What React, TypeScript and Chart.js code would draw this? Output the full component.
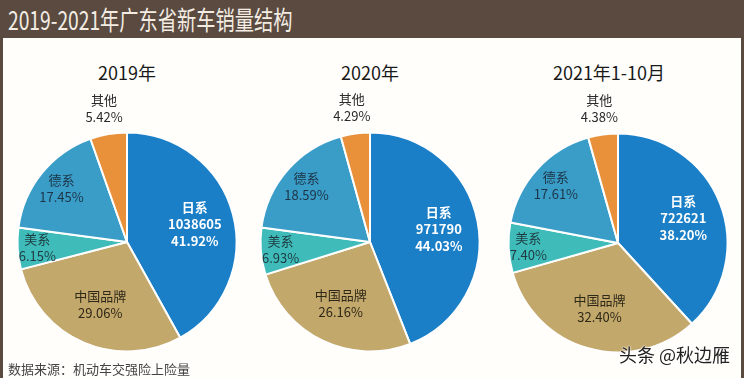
import React, { useEffect, useRef } from "react";
import { Chart, registerables } from "chart.js";

Chart.register(...registerables);

const categories = ["日系", "中国品牌", "美系", "德系", "其他"];
const periods = ["2019年", "2020年", "2021年1-10月"];
const share2019 = [41.92, 29.06, 6.15, 17.45, 5.42];
const share2020 = [44.03, 26.16, 6.93, 18.59, 4.29];
const share2021 = [38.2, 32.4, 7.4, 17.61, 4.38];
const japanVolume = [1038605, 971790, 722621];
const shares = [share2019, share2020, share2021];

const colors = ["#1a7fc6", "#c3a86c", "#3fbcb9", "#3a9dc8", "#e8913a"];
const labelColors = ["#ffffff", "#2e2818", "#1e3a40", "#1c3446", "#2a2a2a"];
const labelRadius = [0.64, 0.62, 0.82, 0.77, 1.24];

const FONT = '"Noto Sans CJK SC", "Noto Sans", sans-serif';

// layout (pie centres and radius in page pixels)
const pieLayout = [
  { cx: 127, cy: 242, titleX: 127 },
  { cx: 370, cy: 242, titleX: 370 },
  { cx: 618, cy: 243, titleX: 609 },
];
const AREA = 221;
const CANVAS_W = 250;
const CANVAS_TOP = 86;
const CANVAS_H = 276;

const labelPlugin = {
  id: "sliceLabels",
  afterDatasetsDraw(chart: any) {
    const ctx = chart.ctx;
    const meta = chart.getDatasetMeta(0);
    const idx = chart.options.plugins.sliceLabels.index;
    const data = chart.data.datasets[0].data as number[];
    meta.data.forEach((arc: any, i: number) => {
      const mid = (arc.startAngle + arc.endAngle) / 2;
      const r = arc.outerRadius * labelRadius[i];
      const x = arc.x + Math.cos(mid) * r;
      const y = arc.y + Math.sin(mid) * r;
      const lines =
        i === 0
          ? [categories[i], String(japanVolume[idx]), data[i].toFixed(2) + "%"]
          : [categories[i], data[i].toFixed(2) + "%"];
      ctx.save();
      ctx.fillStyle = labelColors[i];
      ctx.font = (i === 0 ? "bold " : "") + "13px " + FONT;
      ctx.textAlign = "center";
      ctx.textBaseline = "middle";
      const lh = 17;
      const y0 = y - ((lines.length - 1) * lh) / 2;
      lines.forEach((t, k) => ctx.fillText(t, x, y0 + k * lh));
      ctx.restore();
    });
  },
};

function Pie({ index }: { index: number }) {
  const ref = useRef<HTMLCanvasElement>(null);
  useEffect(() => {
    const lay = pieLayout[index];
    const areaTop = lay.cy - AREA / 2;
    const padTop = areaTop - CANVAS_TOP;
    const padBottom = CANVAS_H - padTop - AREA;
    const padSide = (CANVAS_W - AREA) / 2;
    const chart = new Chart(ref.current!, {
      type: "pie",
      data: {
        labels: categories,
        datasets: [
          {
            data: shares[index],
            backgroundColor: colors,
            borderColor: "#ffffff",
            borderWidth: 2,
          },
        ],
      },
      options: {
        animation: false,
        responsive: false,
        maintainAspectRatio: false,
        layout: {
          padding: { top: padTop, bottom: padBottom, left: padSide, right: padSide },
        },
        plugins: {
          legend: { display: false },
          tooltip: { enabled: false },
          sliceLabels: { index },
        } as any,
      },
      plugins: [labelPlugin],
    });
    return () => chart.destroy();
  }, [index]);
  const lay = pieLayout[index];
  return (
    <canvas
      ref={ref}
      width={CANVAS_W}
      height={CANVAS_H}
      style={{
        position: "absolute",
        left: lay.cx - CANVAS_W / 2,
        top: CANVAS_TOP,
        width: CANVAS_W,
        height: CANVAS_H,
      }}
    />
  );
}

export default function App() {
  return (
    <div
      style={{
        position: "absolute",
        left: 0,
        top: 0,
        width: 744,
        height: 378,
        background: "#fffefb",
        overflow: "hidden",
        fontFamily: FONT,
      }}
    >
      <div
        style={{
          position: "absolute",
          left: 0,
          top: 0,
          width: 744,
          height: 38,
          background: "#5a4a40",
        }}
      />
      <div style={{ position: "absolute", left: 0, top: 0, width: 3, height: 378, background: "#5a4a40" }} />
      <div style={{ position: "absolute", right: 0, top: 0, width: 3, height: 378, background: "#5a4a40" }} />
      <div
        style={{
          position: "absolute",
          left: 8,
          top: 1,
          height: 36,
          lineHeight: "36px",
          fontSize: 26,
          color: "#f3ede4",
          whiteSpace: "nowrap",
          transform: "scaleX(0.74)",
          transformOrigin: "left center",
        }}
      >
        2019-2021年广东省新车销量结构
      </div>
      {periods.map((p, i) => (
        <div
          key={p}
          style={{
            position: "absolute",
            left: pieLayout[i].titleX - 100,
            width: 200,
            top: 60,
            height: 24,
            lineHeight: "24px",
            textAlign: "center",
            fontSize: 18,
            color: "#1a1a1a",
            whiteSpace: "nowrap",
          }}
        >
          {p}
        </div>
      ))}
      {[0, 1, 2].map((i) => (
        <Pie key={i} index={i} />
      ))}
      <div
        style={{
          position: "absolute",
          left: 8,
          top: 360,
          height: 18,
          lineHeight: "18px",
          fontSize: 13,
          color: "#444",
          whiteSpace: "nowrap",
        }}
      >
        数据来源：机动车交强险上险量
      </div>
      <div
        style={{
          position: "absolute",
          right: 14,
          top: 342,
          height: 24,
          lineHeight: "24px",
          fontSize: 18,
          color: "#222",
          whiteSpace: "nowrap",
          textShadow: "0 0 2px #fff, 0 0 2px #fff",
        }}
      >
        头条 @秋边雁
      </div>
    </div>
  );
}
